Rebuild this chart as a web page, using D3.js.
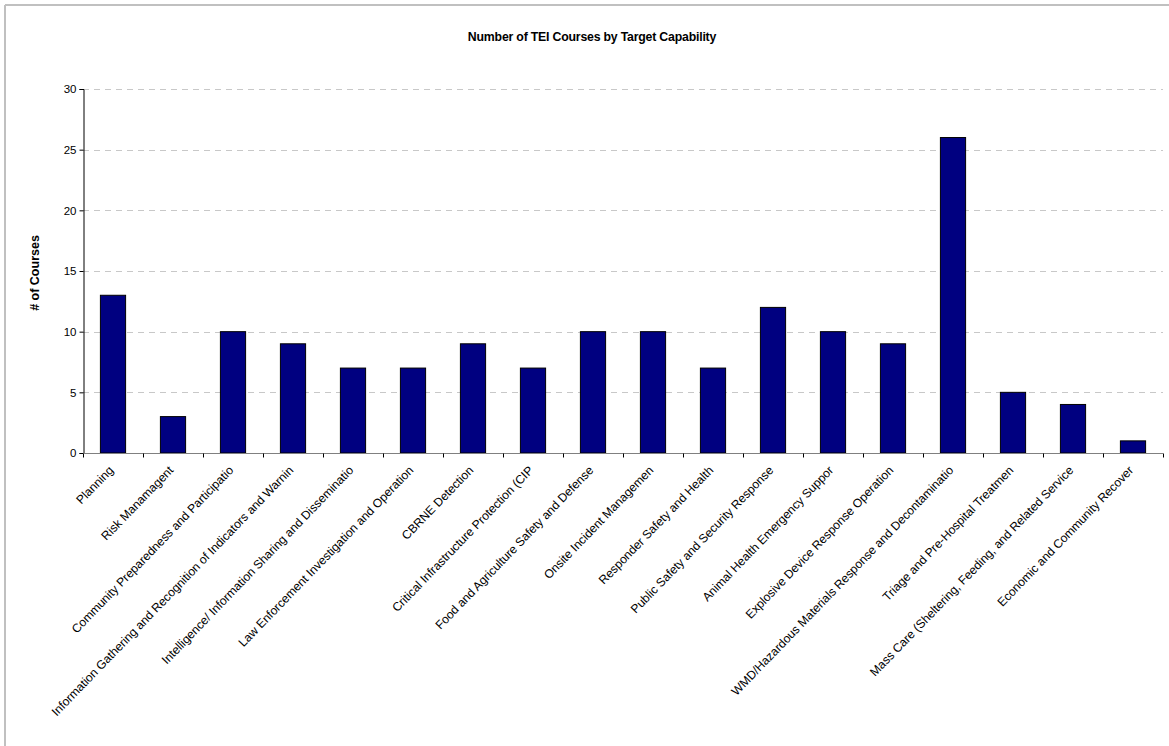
<!DOCTYPE html>
<html>
<head>
<meta charset="utf-8">
<script src="https://cdn.jsdelivr.net/npm/d3@7"></script>
<style>
  body { margin: 0; background: #fff; }
  text { font-family: "Liberation Sans", Arial, sans-serif; fill: #000; }
</style>
</head>
<body>
<svg width="1169" height="746"></svg>
<script>
// data
var capabilities = [
  "Planning", "Risk Manamagent", "Community Preparedness and Participatio",
  "Information Gathering and Recognition of Indicators and Warnin",
  "Intelligence/ Information Sharing and Disseminatio",
  "Law Enforcement Investigation and Operation", "CBRNE Detection",
  "Critical Infrastructure Protection (CIP", "Food and Agriculture Safety and Defense",
  "Onsite Incident Managemen", "Responder Safety and Health",
  "Public Safety and Security Response", "Animal Health Emergency Suppor",
  "Explosive Device Response Operation",
  "WMD/Hazardous Materials Response and Decontaminatio",
  "Triage and Pre-Hospital Treatmen",
  "Mass Care (Sheltering, Feeding, and Related Service",
  "Economic and Community Recover"
];
var courses = [13, 3, 10, 9, 7, 7, 9, 7, 10, 10, 7, 12, 10, 9, 26, 5, 4, 1];
var yTicks = [0, 5, 10, 15, 20, 25, 30];

var svg = d3.select("svg"),
    plotLeft = 83, plotRight = 1163, plotTop = 89, plotBottom = 453;

// outer frame (only top and left edges show)
svg.append("line").attr("x1", 5).attr("x2", 1169).attr("y1", 5).attr("y2", 5)
  .attr("stroke", "#c0c0c0").attr("stroke-width", 2);
svg.append("line").attr("x1", 5).attr("x2", 5).attr("y1", 5).attr("y2", 746)
  .attr("stroke", "#c0c0c0").attr("stroke-width", 2);

var x = d3.scaleBand()
    .domain(capabilities)
    .range([plotLeft, plotRight])
    .paddingInner(0.58)
    .paddingOuter(0.29);

var y = d3.scaleLinear().domain([0, 30]).range([plotBottom, plotTop]);

// gridlines
svg.append("g").selectAll("line")
  .data(yTicks.slice(1))
  .enter().append("line")
    .attr("x1", plotLeft).attr("x2", plotRight)
    .attr("y1", function(d) { return Math.round(y(d)) + 0.5; })
    .attr("y2", function(d) { return Math.round(y(d)) + 0.5; })
    .attr("stroke", "#c8c8c8")
    .attr("stroke-dasharray", "6,5");

// bars
svg.append("g").selectAll("rect")
  .data(courses)
  .enter().append("rect")
    .attr("x", function(d, i) { return x(capabilities[i]); })
    .attr("y", function(d) { return y(d); })
    .attr("width", x.bandwidth())
    .attr("height", function(d) { return plotBottom - y(d); })
    .attr("fill", "#000080")
    .attr("stroke", "#000")
    .attr("stroke-width", 1);

// y axis
var yAxis = svg.append("g")
  .attr("transform", "translate(" + (plotLeft + 0.5) + ",0)")
  .call(d3.axisLeft(y).tickValues(yTicks).tickSize(4).tickPadding(3));
yAxis.select(".domain").attr("stroke", "#000");
yAxis.selectAll("text").style("font-size", "11.5px").attr("fill", "#000");

// x axis
var xAxis = svg.append("g")
  .attr("transform", "translate(0," + (plotBottom + 0.5) + ")");
xAxis.append("line").attr("x1", plotLeft).attr("x2", plotRight)
  .attr("stroke", "#808080");
var step = x.step();
xAxis.selectAll(".tk")
  .data(d3.range(capabilities.length + 1))
  .enter().append("line")
    .attr("class", "tk")
    .attr("x1", function(i) { return Math.round(plotLeft + i * step) + 0.5; })
    .attr("x2", function(i) { return Math.round(plotLeft + i * step) + 0.5; })
    .attr("y1", 0).attr("y2", 4)
    .attr("stroke", "#000");

svg.append("g").selectAll("text")
  .data(capabilities)
  .enter().append("text")
    .attr("transform", function(d) {
      return "translate(" + (x(d) + x.bandwidth() / 2 - 2) + "," + (plotBottom + 15) + ") rotate(-46)";
    })
    .attr("text-anchor", "end")
    .attr("dy", "0.35em")
    .style("font-size", "12.1px")
    .text(function(d) { return d; });

// title
svg.append("text")
  .attr("x", 592).attr("y", 41)
  .attr("text-anchor", "middle")
  .style("font-size", "12.3px").style("font-weight", "bold")
  .style("letter-spacing", "-0.2px")
  .text("Number of TEI Courses by Target Capability");

// y axis label
svg.append("text")
  .attr("transform", "translate(39,273) rotate(-90)")
  .attr("text-anchor", "middle")
  .style("font-size", "12.5px").style("font-weight", "bold")
  .text("# of Courses");
</script>
</body>
</html>
